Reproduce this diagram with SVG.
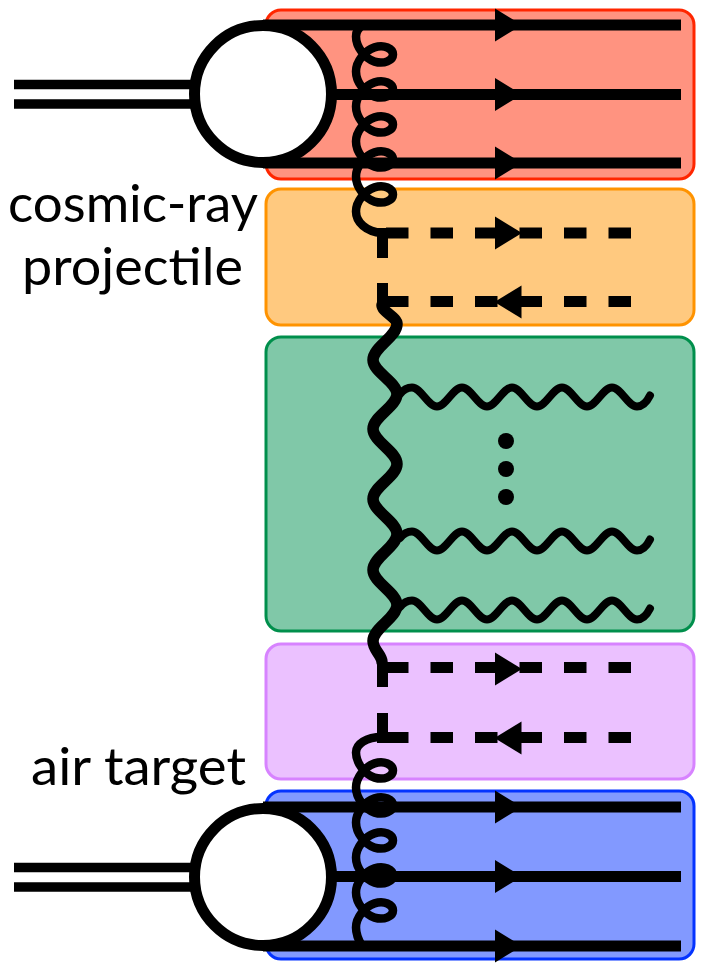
<svg xmlns="http://www.w3.org/2000/svg" xmlns:xlink="http://www.w3.org/1999/xlink" width="703" height="970" viewBox="0 0 703 970">
<style>
.box{stroke-width:3}
.ln{stroke:#000;stroke-width:11;fill:none}
.dl{stroke:#000;stroke-width:11;fill:none;stroke-dasharray:22.5 22}
.glu{stroke:#000;stroke-width:8.5;fill:none;stroke-linecap:round}
.wav{stroke:#000;stroke-width:11.5;fill:none;stroke-linecap:round}
.pho{stroke:#000;stroke-width:8;fill:none;stroke-linecap:round}
.blob{fill:#fff;stroke:#000;stroke-width:11}
.lbl{font-family:Lato,"Open Sans","Liberation Sans",sans-serif;font-size:52px;fill:#000}
</style>
<defs>
<path id="arR" d="M-13.5,-16.5 L13.5,0 L-13.5,16.5 Z" fill="#000"/>
<path id="arL" d="M13.5,-16.5 L-13.5,0 L13.5,16.5 Z" fill="#000"/>
<path id="ph" class="pho" d="M400,-3 C404,-8 407,-9.5 412,-9.5 c9,0 16,19 25,19 c9,0 16,-19 25,-19 c9,0 16,19 25,19 c9,0 16,-19 25,-19 c9,0 16,19 25,19 c9,0 16,-19 25,-19 c9,0 16,19 25,19 c9,0 16,-19 25,-19 c9,0 16,19 25,19 c6,0 10,-5 13,-11"/>
</defs>

<g id="box-red"><rect class="box" x="266" y="10" width="428" height="169" rx="15" fill="#FF9380" stroke="#FF2600"/></g>
<g id="box-orange"><rect class="box" x="266" y="189" width="428" height="136" rx="15" fill="#FFC97F" stroke="#FF9300"/></g>
<g id="box-green"><rect class="box" x="266" y="337" width="428" height="294" rx="15" fill="#80C8A8" stroke="#008F4C"/></g>
<g id="box-purple"><rect class="box" x="266" y="644" width="428" height="135" rx="15" fill="#EBC1FF" stroke="#D783FF"/></g>
<g id="box-blue"><rect class="box" x="266" y="791" width="428" height="168" rx="15" fill="#8299FF" stroke="#0433FF"/></g>

<g id="connectors">
  <path class="ln" style="stroke-width:9.5" d="M14,84.5 H200 M14,104 H200"/>
  <path class="ln" style="stroke-width:9.5" d="M14,867.5 H200 M14,887 H200"/>
  <path class="ln" d="M263,25 H681 M320,94.5 H681 M263,163 H681"/>
  <path class="ln" d="M263,807 H681 M320,876.5 H681 M263,946 H681"/>
  <use href="#arR" x="508.5" y="25"/>
  <use href="#arR" x="508.5" y="94.5"/>
  <use href="#arR" x="508.5" y="163"/>
  <use href="#arR" x="508.5" y="807"/>
  <use href="#arR" x="508.5" y="876.5"/>
  <use href="#arR" x="508.5" y="946"/>
  <path class="ln" d="M382.5,228 V258 M382.5,283 V307"/>
  <path class="dl" d="M386,233 H631 M386,301.5 H631"/>
  <use href="#arR" x="508.5" y="233"/>
  <use href="#arL" x="508" y="302"/>
  <path class="ln" d="M382.5,662 V687 M382.5,713 V743"/>
  <path class="dl" d="M386,667.5 H631 M386,737.5 H631"/>
  <use href="#arR" x="508.5" y="669"/>
  <use href="#arL" x="508" y="738"/>
  <path class="glu" d="M363,25 C358,28 356,32 356,36.5 c0,10.3 8.8,22.2 18.5,25.1 c9.7,2.9 18.5,-1.1 18.5,-7.1 c0,-6 -8.8,-10.2 -18.5,-7.1 c-9.7,3.1 -18.5,14.3 -18.5,24.1 c0,10.3 8.8,22.2 18.5,25.1 c9.7,2.9 18.5,-1.1 18.5,-7.1 c0,-6 -8.8,-10.2 -18.5,-7.1 c-9.7,3.1 -18.5,14.3 -18.5,24.1 c0,10.3 8.8,22.2 18.5,25.1 c9.7,2.9 18.5,-1.1 18.5,-7.1 c0,-6 -8.8,-10.2 -18.5,-7.1 c-9.7,3.1 -18.5,14.3 -18.5,24.1 c0,10.3 8.8,22.2 18.5,25.1 c9.7,2.9 18.5,-1.1 18.5,-7.1 c0,-6 -8.8,-10.2 -18.5,-7.1 c-9.7,3.1 -18.5,14.3 -18.5,24.1 c0,10.3 8.8,22.2 18.5,25.1 c9.7,2.9 18.5,-1.1 18.5,-7.1 c0,-6 -8.8,-10.2 -18.5,-7.1 c-9.7,3.1 -18.5,14.3 -18.5,24.1 C356,222 366,232 382,233"/>
  <path class="glu" d="M382,737 C366,737 356,744 356,752.5 c0,10.3 8.8,22.2 18.5,25.1 c9.7,2.9 18.5,-1.1 18.5,-7.1 c0,-6 -8.8,-10.2 -18.5,-7.1 c-9.7,3.1 -18.5,14.3 -18.5,24.1 c0,10.3 8.8,22.2 18.5,25.1 c9.7,2.9 18.5,-1.1 18.5,-7.1 c0,-6 -8.8,-10.2 -18.5,-7.1 c-9.7,3.1 -18.5,14.3 -18.5,24.1 c0,10.3 8.8,22.2 18.5,25.1 c9.7,2.9 18.5,-1.1 18.5,-7.1 c0,-6 -8.8,-10.2 -18.5,-7.1 c-9.7,3.1 -18.5,14.3 -18.5,24.1 c0,10.3 8.8,22.2 18.5,25.1 c9.7,2.9 18.5,-1.1 18.5,-7.1 c0,-6 -8.8,-10.2 -18.5,-7.1 c-9.7,3.1 -18.5,14.3 -18.5,24.1 c0,10.3 8.8,22.2 18.5,25.1 c9.7,2.9 18.5,-1.1 18.5,-7.1 c0,-6 -8.8,-10.2 -18.5,-7.1 c-9.7,3.1 -18.5,14.3 -18.5,24.1 C356,935 359,941 362,946"/>
  <path class="wav" d="M382,305 C382,312 397,317 397,324 C397,337 373,347 373,360 C373,372 397,382 397,394 C397,406.6 373,416.4 373,429 C373,441.6 397,451.4 397,464 C397,476.6 373,486.4 373,499 C373,511.6 397,521.4 397,534 C397,547 373,557 373,570 C373,582.6 397,592.4 397,605 C397,618 373,628 373,641 C373,650 382,655 382,662"/>
  <use href="#ph" y="397"/>
  <use href="#ph" y="541"/>
  <use href="#ph" y="610"/>
  <circle cx="506" cy="441" r="8"/>
  <circle cx="506" cy="469" r="8"/>
  <circle cx="506" cy="497" r="8"/>
</g>

<g id="projectile"><circle class="blob" cx="263" cy="94" r="68.5"/></g>
<g id="target"><circle class="blob" cx="263" cy="877" r="68.5"/></g>

<g id="labels">
  <text class="lbl" x="8" y="222" textLength="250" lengthAdjust="spacingAndGlyphs">cosmic-ray</text>
  <text class="lbl" x="22" y="285" textLength="221" lengthAdjust="spacingAndGlyphs">projectile</text>
  <text class="lbl" x="31" y="785" textLength="215" lengthAdjust="spacingAndGlyphs">air target</text>
</g>
</svg>
